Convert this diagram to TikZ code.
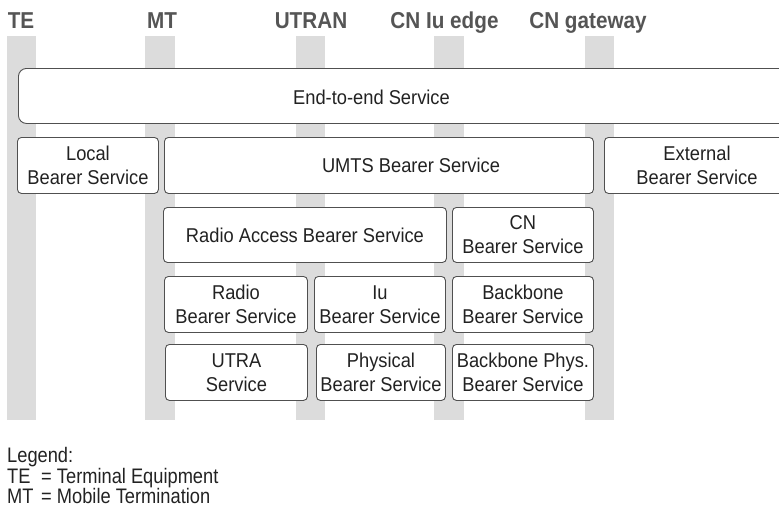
\documentclass[tikz,border=0pt]{standalone}
\usepackage{fontspec}
\setmainfont{Liberation Sans}[FakeStretch=0.915]
\newfontfamily\hdrfont{Liberation Sans}[FakeStretch=0.9]
\newfontfamily\legfont{Liberation Sans}[FakeStretch=0.87]
\definecolor{barcol}{HTML}{DCDCDC}
\definecolor{boxline}{HTML}{505050}
\definecolor{txtcol}{HTML}{222222}
\definecolor{hdrcol}{HTML}{555555}
\begin{document}
\begin{tikzpicture}[x=1pt,y=-1pt,
  bar/.style={fill=barcol,draw=none},
  hdr/.style={font=\hdrfont\bfseries\fontsize{23}{26}\selectfont,text=hdrcol,anchor=base,inner sep=0pt},
  box/.style={draw=boxline,fill=white,line width=0.9pt,rounded corners=4pt,anchor=north west,
    inner sep=0pt,align=center,text=txtcol,font=\fontsize{20}{24}\selectfont},
  lbl/.style={inner sep=0pt,align=center,text=txtcol,font=\fontsize{20}{24}\selectfont},
  leg/.style={anchor=base west,inner sep=0pt,text=txtcol,font=\legfont\fontsize{21}{24}\selectfont}]
\useasboundingbox (0,0) rectangle (779,514);
% vertical bars
\fill[bar] (7,36) rectangle (36,420);
\fill[bar] (145,36) rectangle (175,420);
\fill[bar] (296,36) rectangle (325,420);
\fill[bar] (434,36) rectangle (464,420);
\fill[bar] (585,36) rectangle (614,420);
% headers
\node[hdr] (hTE) at (21,28) {TE};
\node[hdr] (hMT) at (162,28) {MT};
\node[hdr] (hUT) at (311,28) {UTRAN};
\node[hdr] (hCN) at (444.5,28) {CN Iu edge};
\node[hdr] (hGW) at (588,28) {CN gateway};
% boxes
\node[box,rounded corners=8pt,minimum width=782pt,minimum height=55pt] (e2e) at (18,68) {};
\node[lbl] (e2et) at (371.5,97) {End-to-end Service};
\node[box,minimum width=141pt,minimum height=56pt] (local) at (17,137) {Local\\Bearer Service};
\node[box,minimum width=429pt,minimum height=56pt] (umts) at (164,137) {};
\node[lbl] (umtst) at (411,165) {UMTS Bearer Service};
\node[box,minimum width=216pt,minimum height=56pt] (ext) at (604,137) {};
\node[lbl] (extt) at (697,165) {External\\Bearer Service};
\node[box,minimum width=283pt,minimum height=55pt] (rab) at (163,207) {Radio Access Bearer Service};
\node[box,minimum width=141pt,minimum height=55pt] (cn) at (452,207) {CN\\Bearer Service};
\node[box,minimum width=143pt,minimum height=56pt] (radio) at (164,276) {Radio\\Bearer Service};
\node[box,minimum width=131pt,minimum height=56pt] (iu) at (314,276) {Iu\\Bearer Service};
\node[box,minimum width=141pt,minimum height=56pt] (bb) at (452,276) {Backbone\\Bearer Service};
\node[box,minimum width=142pt,minimum height=56pt] (utra) at (165,344) {UTRA\\Service};
\node[box,minimum width=129pt,minimum height=56pt] (phys) at (316,344) {Physical\\Bearer Service};
\node[box,minimum width=141pt,minimum height=56pt] (bbp) at (452,344) {Backbone Phys.\\Bearer Service};
% legend
\node[leg] (leg1) at (7,462) {Legend:};
\node[leg] (leg2) at (7,483) {\makebox[34pt][l]{TE}= Terminal Equipment};
\node[leg] (leg3) at (7,503) {\makebox[34pt][l]{MT}= Mobile Termination};
\end{tikzpicture}
\end{document}
